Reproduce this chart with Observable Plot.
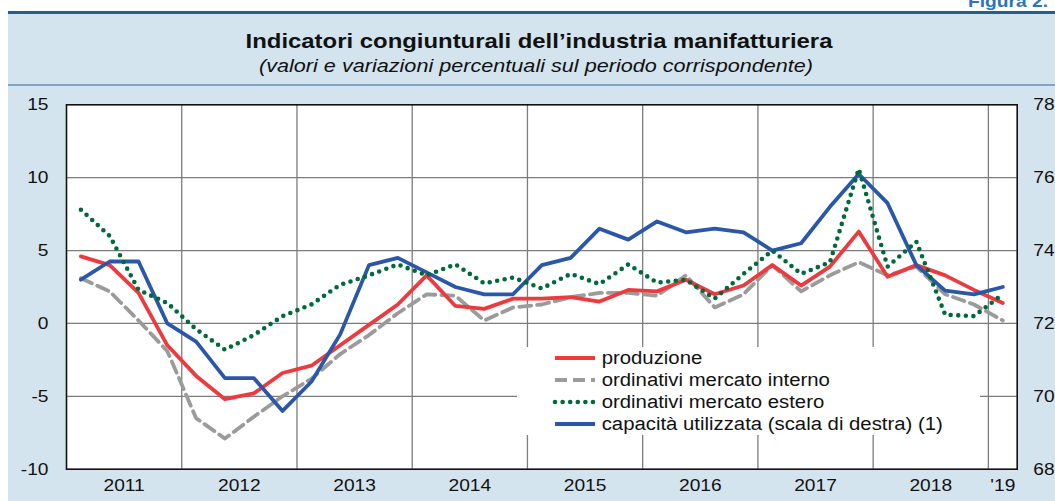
<!DOCTYPE html>
<html>
<head>
<meta charset="utf-8">
<script src="https://cdn.jsdelivr.net/npm/d3@7"></script>
<script src="https://cdn.jsdelivr.net/npm/@observablehq/plot@0.6"></script>
<style>
  body { margin: 0; background: #fff; font-family: "Liberation Sans", Arial, sans-serif; }
  #wrap { position: relative; width: 1055px; height: 501px; overflow: hidden; background: #fff; }
  #panel { position: absolute; left: 8px; top: 11px; right: 0; bottom: 0; background: #d3e4ee; border-top: 3px solid #265e8b; }
  #sep { position: absolute; left: 8px; top: 84px; width: 1047px; height: 2px; background: #7ea6c2; }
  #fig { position: absolute; left: 968px; top: -7px; font-size: 17px; line-height: 17px; font-weight: bold; color: #2f74b5; white-space: nowrap; transform-origin: left top; transform: scaleX(1.13); }
  #title { position: absolute; left: 539px; top: 29.7px; font-size: 21px; line-height: 21px; font-weight: bold; color: #111; white-space: nowrap; transform: translateX(-50%) scaleX(1.138); }
  #subtitle { position: absolute; left: 536px; top: 56px; font-size: 19px; line-height: 19px; font-style: italic; color: #111; white-space: nowrap; transform: translateX(-50%) scaleX(1.138); }
  #chart { position: absolute; left: 0; top: 87px; }
  #legend { position: absolute; left: 517px; top: 347px; }
</style>
</head>
<body>
<div id="wrap">
  <div id="fig">Figura 2.</div>
  <div id="panel"></div>
  <div id="sep"></div>
  <div id="title">Indicatori congiunturali dell’industria manifatturiera</div>
  <div id="subtitle">(valori e variazioni percentuali sul periodo corrispondente)</div>
  <div id="chart"></div>
  <div id="legend"></div>
</div>
<script>
// ---- data (quarterly) ----
const periodi = [
  "2011-T1","2011-T2","2011-T3","2011-T4",
  "2012-T1","2012-T2","2012-T3","2012-T4",
  "2013-T1","2013-T2","2013-T3","2013-T4",
  "2014-T1","2014-T2","2014-T3","2014-T4",
  "2015-T1","2015-T2","2015-T3","2015-T4",
  "2016-T1","2016-T2","2016-T3","2016-T4",
  "2017-T1","2017-T2","2017-T3","2017-T4",
  "2018-T1","2018-T2","2018-T3","2018-T4",
  "2019-T1"
];
const produzione = [4.6, 4.0, 2.1, -1.5, -3.6, -5.2, -4.8, -3.4, -2.9, -1.5, -0.1, 1.3, 3.3, 1.2, 1.0, 1.7, 1.7, 1.8, 1.5, 2.3, 2.2, 3.0, 2.0, 2.6, 4.0, 2.6, 3.9, 6.3, 3.2, 4.0, 3.3, 2.3, 1.4];
const ordinativiInterno = [3.1, 2.2, 0.2, -1.9, -6.5, -7.9, -6.4, -5.0, -3.8, -2.1, -0.8, 0.7, 2.0, 1.9, 0.2, 1.1, 1.3, 1.8, 2.1, 2.1, 1.9, 3.3, 1.1, 2.0, 4.0, 2.2, 3.3, 4.2, 3.3, 3.9, 2.0, 1.3, 0.2];
const ordinativiEstero = [7.8, 6.0, 2.3, 1.4, -0.4, -1.8, -0.8, 0.5, 1.3, 2.65, 3.3, 4.05, 3.3, 4.05, 2.75, 3.15, 2.4, 3.4, 2.7, 4.05, 2.8, 3.0, 1.7, 3.4, 5.0, 3.4, 4.2, 10.6, 3.9, 5.6, 0.6, 0.5, 2.0];
const capacitaUtilizzata = [73.2, 73.7, 73.7, 72.0, 71.5, 70.5, 70.5, 69.6, 70.4, 71.7, 73.6, 73.8, 73.4, 73.0, 72.8, 72.8, 73.6, 73.8, 74.6, 74.3, 74.8, 74.5, 74.6, 74.5, 74.0, 74.2, 75.2, 76.1, 75.3, 73.6, 72.9, 72.8, 73.0];

const anniGriglia = [2012, 2013, 2014, 2015, 2016, 2017, 2018, 2019];
const anniEtichette = ["2011","2012","2013","2014","2015","2016","2017","2018","'19"];
const anniPosizioni = [2011.5, 2012.5, 2013.5, 2014.5, 2015.5, 2016.5, 2017.5, 2018.5, 2019.125];
const yTicks = [-10, -5, 0, 5, 10, 15];
const yTicksDestra = [68, 70, 72, 74, 76, 78];
const legendaVoci = ["produzione", "ordinativi mercato interno", "ordinativi mercato estero", "capacità utilizzata (scala di destra) (1)"];

// right scale: 68..78 maps onto -10..15
const destraMin = 68, destraMax = 78, sinMin = -10, sinMax = 15;
const toLeft = v => sinMin + (v - destraMin) * (sinMax - sinMin) / (destraMax - destraMin);

const toX = p => { const [a, q] = p.split("-T"); return +a + (+q - 0.5) / 4; };
const rows = periodi.map((p, i) => ({
  x: toX(p),
  prod: produzione[i],
  int: ordinativiInterno[i],
  est: ordinativiEstero[i],
  cap: toLeft(capacitaUtilizzata[i])
}));

const xLabel = new Map(anniPosizioni.map((p, i) => [p, anniEtichette[i]]));
const yRightLabel = new Map(yTicks.map((t, i) => [t, String(yTicksDestra[i])]));

const C = {
  prod: "#ec3a3f",
  int: "#9b9b9b",
  est: "#00693a",
  cap: "#2a57a8",
  grid: "#7c7c7c"
};
const styles = {
  prod: { stroke: C.prod, strokeWidth: 3.8 },
  int: { stroke: C.int, strokeWidth: 3.8, strokeDasharray: "12,6" },
  est: { stroke: C.est, strokeWidth: 4.6, strokeDasharray: "0,7.6", strokeLinecap: "round" },
  cap: { stroke: C.cap, strokeWidth: 3.8 }
};

const chart = Plot.plot({
  width: 1055,
  height: 414,
  marginLeft: 66,
  marginRight: 38.3,
  marginTop: 17.3,
  marginBottom: 32.3,
  style: { background: "transparent", fontFamily: "'Liberation Sans', Arial, sans-serif", fontSize: "17px", color: "#111" },
  x: { domain: [2011, 2019.25], label: null },
  y: { domain: [-10, 15], label: null },
  marks: [
    Plot.frame({ fill: "white", stroke: null }),
    Plot.ruleX(anniGriglia, { stroke: C.grid, strokeWidth: 1.3 }),
    Plot.ruleY([-5, 0, 5, 10], { stroke: C.grid, strokeWidth: 1.3 }),
    Plot.line(rows, { x: "x", y: "int", ...styles.int }),
    Plot.line(rows, { x: "x", y: "prod", ...styles.prod }),
    Plot.line(rows, { x: "x", y: "cap", ...styles.cap }),
    Plot.line(rows, { x: "x", y: "est", ...styles.est }),
    Plot.frame({ stroke: "#111", strokeWidth: 1.6 }),
    Plot.axisY({ ticks: yTicks, tickSize: 0, tickPadding: 18, label: null, tickFormat: d => String(d) }),
    Plot.axisY({ anchor: "right", ticks: yTicks, tickSize: 0, tickPadding: 16, label: null, tickFormat: d => yRightLabel.get(d) }),
    Plot.axisX({ ticks: anniPosizioni, tickSize: 0, tickPadding: 10, label: null, tickFormat: d => xLabel.get(d) })
  ]
});
// widen glyphs slightly to match the reference lettering
chart.querySelectorAll("text").forEach(t => {
  const tr = t.getAttribute("transform");
  if (tr && tr.includes("translate")) t.setAttribute("transform", tr + " scale(1.13,1)");
});
document.getElementById("chart").appendChild(chart);

// ---- legend ----
const L = d3.select("#legend").append("svg")
  .attr("width", 463).attr("height", 88)
  .style("display", "block")
  .style("background", "white");
const keys = ["prod", "int", "est", "cap"];
const rowY = [11, 33, 55, 77];
keys.forEach((k, i) => {
  const s = styles[k];
  L.append("line")
    .attr("x1", 38).attr("x2", 78).attr("y1", rowY[i]).attr("y2", rowY[i])
    .attr("stroke", s.stroke).attr("stroke-width", s.strokeWidth)
    .attr("stroke-dasharray", s.strokeDasharray || null)
    .attr("stroke-linecap", s.strokeLinecap || null);
  L.append("text")
    .attr("transform", `translate(84.7,${rowY[i] + 6.3}) scale(1.13,1)`)
    .attr("font-family", "'Liberation Sans', Arial, sans-serif")
    .attr("font-size", 18)
    .attr("fill", "#111")
    .text(legendaVoci[i]);
});
</script>
</body>
</html>
